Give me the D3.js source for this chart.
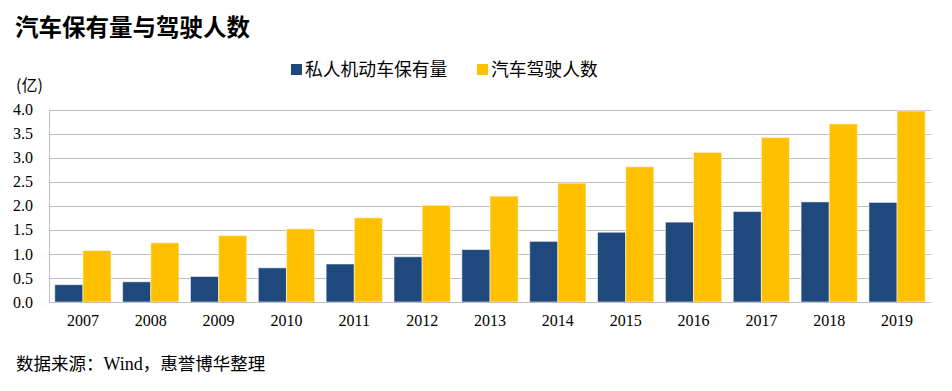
<!DOCTYPE html>
<html>
<head>
<meta charset="utf-8">
<script src="https://cdn.jsdelivr.net/npm/d3@7"></script>
<style>
  html, body { margin: 0; padding: 0; background: #fff; }
  svg { display: block; }
</style>
</head>
<body>
<script>
const categories = ["2007","2008","2009","2010","2011","2012","2013","2014","2015","2016","2017","2018","2019"];
const seriesNames = ["私人机动车保有量", "汽车驾驶人数"];
const privateVehicles = [0.36, 0.42, 0.53, 0.71, 0.79, 0.94, 1.09, 1.26, 1.45, 1.66, 1.88, 2.08, 2.07];
const drivers = [1.07, 1.23, 1.38, 1.52, 1.75, 2.01, 2.20, 2.47, 2.81, 3.11, 3.42, 3.70, 3.97];
const yTicks = [0, 0.5, 1.0, 1.5, 2.0, 2.5, 3.0, 3.5, 4.0];
const colors = ["#1f497d", "#ffc000"];

(function () {
const W = 952, H = 391;
const pLeft = 49, pRight = 931, pTop = 109.5, pBottom = 302;
const serif = "'Liberation Serif','Times New Roman',serif";
const cjk = "'Noto Sans CJK SC','Noto Sans',sans-serif";

const svg = d3.select("body").append("svg").attr("width", W).attr("height", H);

const x = d3.scaleBand().domain(categories).range([pLeft, pRight]).paddingInner(0.17).paddingOuter(0.085);
const xs = d3.scaleBand().domain([0, 1]).range([0, x.bandwidth()]);
const y = d3.scaleLinear().domain([0, 4]).range([pBottom, pTop]);

// gridlines
svg.append("g").selectAll("line").data(yTicks).join("line")
  .attr("x1", pLeft).attr("x2", pRight)
  .attr("y1", d => Math.round(y(d)) + 0.5).attr("y2", d => Math.round(y(d)) + 0.5)
  .attr("stroke", "#bfbfbf").attr("stroke-width", 1);
// left axis line
svg.append("line").attr("x1", pLeft + 0.5).attr("x2", pLeft + 0.5)
  .attr("y1", Math.round(y(4)) + 0.5).attr("y2", Math.round(pBottom) + 0.5)
  .attr("stroke", "#bfbfbf");

// y axis labels
const yAxis = d3.axisLeft(y).tickValues(yTicks).tickFormat(d3.format(".1f")).tickSize(0).tickPadding(16);
const gy = svg.append("g").attr("transform", `translate(${pLeft},0)`).call(yAxis);
gy.select(".domain").remove();
gy.selectAll("text").attr("font-family", serif).attr("font-size", 16).attr("fill", "#000");

// bars
const series = [privateVehicles, drivers];
const g = svg.append("g");
categories.forEach((c, i) => {
  series.forEach((s, k) => {
    g.append("rect")
      .attr("x", x(c) + xs(k))
      .attr("y", y(s[i]))
      .attr("width", xs.bandwidth())
      .attr("height", pBottom - y(s[i]))
      .attr("fill", colors[k])
      .attr("stroke", "rgba(255,255,255,0.55)")
      .attr("stroke-width", 1);
  });
});

// bottom axis line
svg.append("line").attr("x1", pLeft).attr("x2", pRight)
  .attr("y1", Math.round(pBottom) + 0.5).attr("y2", Math.round(pBottom) + 0.5)
  .attr("stroke", "#bfbfbf");

// x axis labels
const xAxis = d3.axisBottom(x).tickSize(0).tickPadding(13);
const gx = svg.append("g").attr("transform", `translate(0,${pBottom})`).call(xAxis);
gx.select(".domain").remove();
gx.selectAll("text").attr("font-family", serif).attr("font-size", 16).attr("fill", "#000");

// title
svg.append("text").attr("x", 15).attr("y", 36)
  .attr("font-family", cjk).attr("font-size", 23.5).attr("font-weight", 600).attr("fill", "#000")
  .text("汽车保有量与驾驶人数");

// unit
svg.append("text").attr("x", 16).attr("y", 91)
  .attr("font-family", cjk).attr("font-size", 16).attr("fill", "#000")
  .text("(亿)");

// legend
const legendX = [291, 477];
seriesNames.forEach((n, k) => {
  svg.append("rect").attr("x", legendX[k]).attr("y", 64).attr("width", 11).attr("height", 11).attr("fill", colors[k]);
  svg.append("text").attr("x", legendX[k] + 14).attr("y", 76)
    .attr("font-family", cjk).attr("font-size", 17.8).attr("fill", "#000").text(n);
});

// source
const src = svg.append("text").attr("x", 16).attr("y", 370)
  .attr("font-family", cjk).attr("font-size", 17.5).attr("fill", "#000");
src.append("tspan").text("数据来源：");
src.append("tspan").attr("font-family", serif).attr("font-size", 18).text("Wind");
src.append("tspan").text("，惠誉博华整理");
})();
</script>
</body>
</html>
